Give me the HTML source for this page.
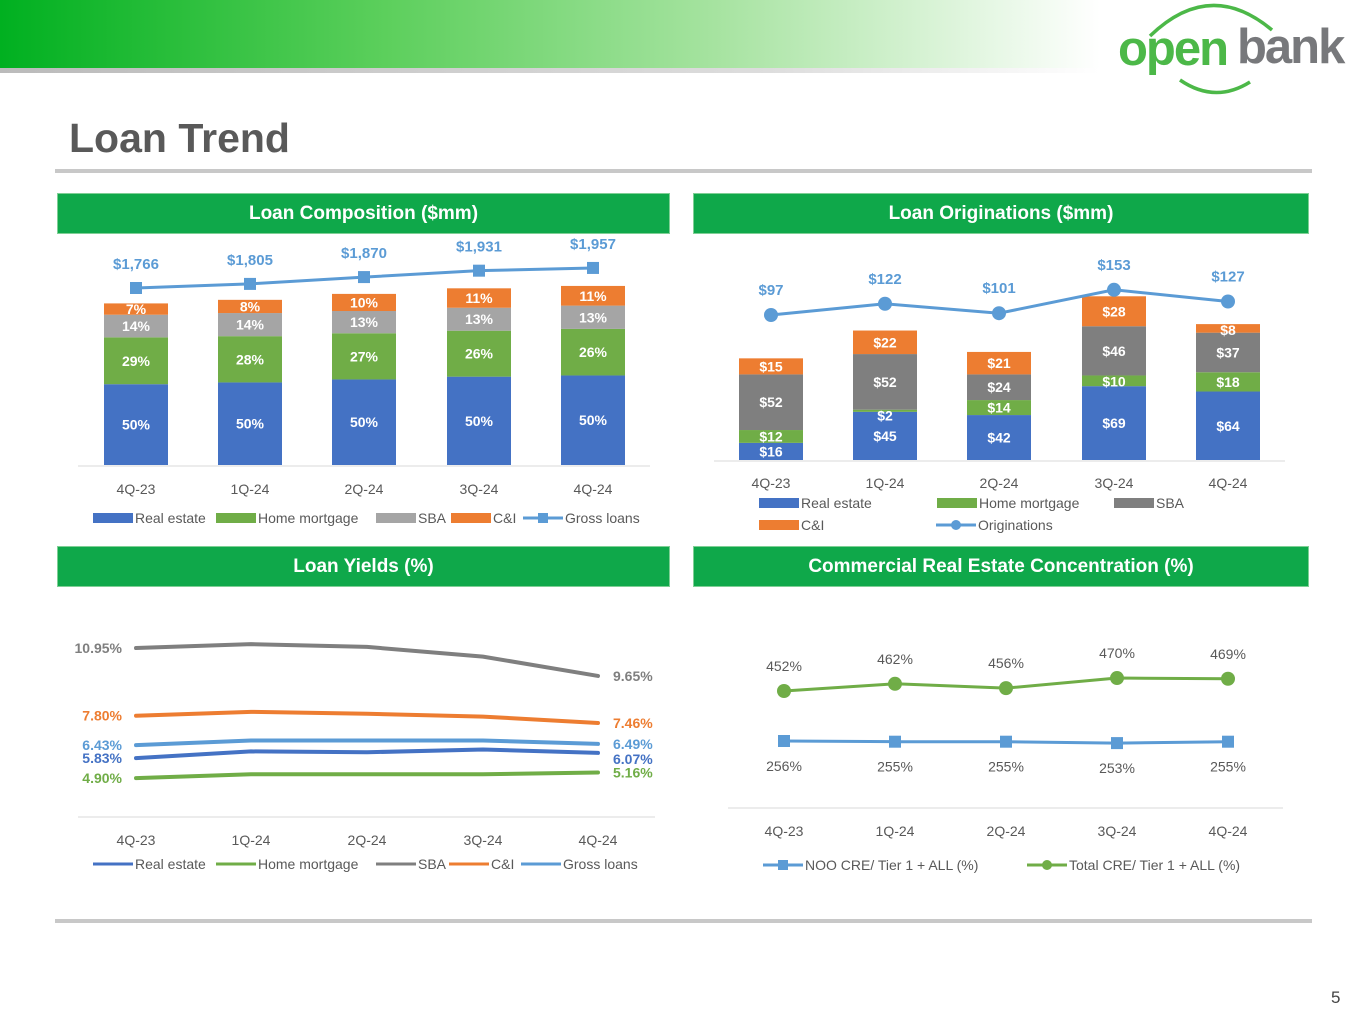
<!DOCTYPE html>
<html><head><meta charset="utf-8">
<style>
body{margin:0;width:1365px;height:1024px;background:#fff;position:relative;overflow:hidden;font-family:"Liberation Sans",sans-serif}
.hdr{position:absolute;left:57px;width:611px;height:39px;background:#0fa84a;border:1px solid #7fcf95;color:#fff;font-weight:bold;font-size:19px;text-align:center;line-height:39px}
svg text{font-family:"Liberation Sans",sans-serif}
</style></head><body>
<div style="position:absolute;left:0;top:0;width:1100px;height:68px;background:linear-gradient(90deg,#00b020 0%,#5ccf5c 35%,#a6e3a0 65%,#fff 100%)"></div>
<div style="position:absolute;left:0;top:68px;width:1100px;height:5px;background:linear-gradient(90deg,#bbb,#ddd 70%,#fff)"></div>
<svg style="position:absolute;left:1100px;top:0" width="265" height="100">
<path d="M50 36 Q110 -22 172 30" stroke="#4cb848" stroke-width="3.5" fill="none"/>
<path d="M80 80 Q115 104 150 82" stroke="#4cb848" stroke-width="3.5" fill="none"/>
<text x="18" y="65" font-size="49" font-weight="bold" fill="#4cb848" letter-spacing="-2">open</text>
<text x="137" y="63" font-size="49" font-weight="bold" fill="#77787b" letter-spacing="-2">bank</text>
</svg>
<div style="position:absolute;left:69px;top:115px;font-size:41px;font-weight:bold;color:#595959">Loan Trend</div>
<div style="position:absolute;left:55px;top:169px;width:1257px;height:4px;background:#c8c8c8"></div>
<div style="position:absolute;left:55px;top:919px;width:1257px;height:4px;background:#c8c8c8"></div>
<div style="position:absolute;left:1331px;top:988px;font-size:17px;color:#444">5</div>
<div class="hdr" style="top:193px">Loan Composition ($mm)</div>
<div class="hdr" style="top:193px;left:693px;width:614px">Loan Originations ($mm)</div>
<div class="hdr" style="top:546px">Loan Yields (%)</div>
<div class="hdr" style="top:546px;left:693px;width:614px">Commercial Real Estate Concentration (%)</div>
<svg id="s" width="1365" height="1024" style="position:absolute;left:0;top:0"></svg>
<script>
const quarters=["4Q-23","1Q-24","2Q-24","3Q-24","4Q-24"];
// Loan composition
const compGross=[1766,1805,1870,1931,1957];
const compRE=[50,50,50,50,50];
const compHM=[29,28,27,26,26];
const compSBA=[14,14,13,13,13];
const compCI=[7,8,10,11,11];
// Originations
const origRE=[16,45,42,69,64];
const origHM=[12,2,14,10,18];
const origSBA=[52,52,24,46,37];
const origCI=[15,22,21,28,8];
const origTotal=[97,122,101,153,127];
// Yields
const yRE=[5.83,6.14,6.10,6.23,6.07];
const yHM=[4.90,5.08,5.08,5.08,5.16];
const ySBA=[10.95,11.13,11.0,10.55,9.65];
const yCI=[7.80,7.98,7.89,7.76,7.46];
const yGross=[6.43,6.65,6.65,6.65,6.49];
// CRE
const creNOO=[256,255,255,253,255];
const creTotal=[452,462,456,470,469];

const S=document.getElementById('s');const NS='http://www.w3.org/2000/svg';
function el(t,a,txt){const e=document.createElementNS(NS,t);for(const k in a)e.setAttribute(k,a[k]);if(txt!=null)e.textContent=txt;S.appendChild(e);return e;}
function txt(x,y,s,c,sz,b,anc){return el('text',{x:x,y:y,fill:c,'font-size':sz||14,'font-weight':b?'bold':'normal','text-anchor':anc||'middle'},s);}
const C={re:'#4472c4',hm:'#70ad47',sba:'#7f7f7f',ci:'#ed7d31',gl:'#5b9bd5'};
function legend(items,y){items.forEach(it=>{
 if(it.line){const l=el('line',{x1:it.x,y1:y,x2:it.x+40,y2:y,stroke:it.c,'stroke-width':3});
  if(it.m=='s')el('rect',{x:it.x+15,y:y-5,width:10,height:10,fill:it.c});if(it.m=='c')el('circle',{cx:it.x+20,cy:y,r:5,fill:it.c});
  const t=txt(it.x+(it.w||42),y+5,it.t,'#595959',14,false,'start');}
 else{const r=el('rect',{x:it.x,y:y-5,width:40,height:10,fill:it.c});
  const t=txt(it.x+42,y+5,it.t,'#595959',14,false,'start');}
});}
// Chart 1
const c1x=[136,250,364,479,593],c1base=465,c1k=0.0915;
el('line',{x1:78,y1:c1base+1,x2:650,y2:c1base+1,stroke:'#d9d9d9'});
quarters.forEach((q,i)=>{const tot=compGross[i]*c1k;let y=c1base;
 [[compRE,C.re],[compHM,C.hm],[compSBA,'#a5a5a5'],[compCI,C.ci]].forEach(([arr,col])=>{
  const h=tot*arr[i]/100;y-=h;const r=el('rect',{x:c1x[i]-32,y:y,width:64,height:h,fill:col});
  
  txt(c1x[i],y+h/2+5,arr[i]+'%','#fff',14,true);});
 const t=txt(c1x[i],494,q,'#595959',14);});
const gy=v=>288-(v-1766)*0.105;
el('polyline',{points:compGross.map((v,i)=>c1x[i]+','+gy(v)).join(' '),fill:'none',stroke:C.gl,'stroke-width':3});
compGross.forEach((v,i)=>{const r=el('rect',{x:c1x[i]-6,y:gy(v)-6,width:12,height:12,fill:C.gl});
 txt(c1x[i],gy(v)-19,'$'+v.toLocaleString('en-US'),C.gl,15,true);});
legend([{x:93,c:C.re,t:'Real estate'},{x:216,c:C.hm,t:'Home mortgage'},{x:376,c:'#a5a5a5',t:'SBA'},{x:451,c:C.ci,t:'C&I'},{x:523,c:C.gl,t:'Gross loans',line:1,m:'s'}],518);
// Chart 2
const c2x=[771,885,999,1114,1228],c2base=460,c2k=1.07;
el('line',{x1:714,y1:c2base+1,x2:1285,y2:c2base+1,stroke:'#d9d9d9'});
quarters.forEach((q,i)=>{let y=c2base;
 [[origRE,C.re],[origHM,C.hm],[origSBA,'#7f7f7f'],[origCI,C.ci]].forEach(([arr,col])=>{
  const h=arr[i]*c2k;y-=h;const r=el('rect',{x:c2x[i]-32,y:y,width:64,height:h,fill:col});
  
  txt(c2x[i],Math.max(y+h/2+5,y+11),'$'+arr[i],'#fff',14,true);});
 const t=txt(c2x[i],488,q,'#595959',14);});
const oy=v=>315-(v-97)*0.45;
el('polyline',{points:origTotal.map((v,i)=>c2x[i]+','+oy(v)).join(' '),fill:'none',stroke:C.gl,'stroke-width':3});
origTotal.forEach((v,i)=>{const c=el('circle',{cx:c2x[i],cy:oy(v),r:7,fill:C.gl});
 txt(c2x[i],oy(v)-20,'$'+v,C.gl,15,true);});
legend([{x:759,c:C.re,t:'Real estate'},{x:937,c:C.hm,t:'Home mortgage'},{x:1114,c:'#7f7f7f',t:'SBA'}],503);
legend([{x:759,c:C.ci,t:'C&I'},{x:936,c:C.gl,t:'Originations',line:1,m:'c'}],525);
// Chart 3
const c3x=[136,251,367,483,598];const yy=v=>648+(10.95-v)*21.5;
el('line',{x1:78,y1:817,x2:655,y2:817,stroke:'#d9d9d9'});
quarters.forEach((q,i)=>{const t=txt(c3x[i],845,q,'#595959',14);});
[[ySBA,C.sba,0],[yCI,C.ci,0],[yGross,C.gl,0],[yRE,C.re,6],[yHM,C.hm,0]].forEach(([arr,col,b])=>{
 const p=el('polyline',{points:arr.map((v,i)=>c3x[i]+','+yy(v)).join(' '),fill:'none',stroke:col,'stroke-width':4,'stroke-linecap':'round'});
 
 txt(122,yy(arr[0])+5,arr[0].toFixed(2)+'%',col,14,true,'end');
 txt(613,yy(arr[4])+5+b,arr[4].toFixed(2)+'%',col,14,true,'start');});
legend([{x:93,c:C.re,t:'Real estate',line:1},{x:216,c:C.hm,t:'Home mortgage',line:1},{x:376,c:C.sba,t:'SBA',line:1},{x:449,c:C.ci,t:'C&I',line:1},{x:521,c:C.gl,t:'Gross loans',line:1}],864);
// Chart 4
const c4x=[784,895,1006,1117,1228];const ty=v=>691-(v-452)*0.72,ny=v=>741-(v-256)*0.7;
el('line',{x1:728,y1:808,x2:1283,y2:808,stroke:'#d9d9d9'});
quarters.forEach((q,i)=>{const t=txt(c4x[i],836,q,'#595959',14);});
el('polyline',{points:creTotal.map((v,i)=>c4x[i]+','+ty(v)).join(' '),fill:'none',stroke:C.hm,'stroke-width':3});
el('polyline',{points:creNOO.map((v,i)=>c4x[i]+','+ny(v)).join(' '),fill:'none',stroke:C.gl,'stroke-width':3});
creTotal.forEach((v,i)=>{const c=el('circle',{cx:c4x[i],cy:ty(v),r:7,fill:C.hm});
 txt(c4x[i],ty(v)-20,v+'%','#595959',14);});
creNOO.forEach((v,i)=>{const r=el('rect',{x:c4x[i]-6,y:ny(v)-6,width:12,height:12,fill:C.gl});
 txt(c4x[i],ny(v)+30,v+'%','#595959',14);});
legend([{x:763,c:C.gl,t:'NOO CRE/ Tier 1 + ALL (%)',line:1,m:'s'},{x:1027,c:C.hm,t:'Total CRE/ Tier 1 + ALL (%)',line:1,m:'c'}],865);
</script>
</body></html>
